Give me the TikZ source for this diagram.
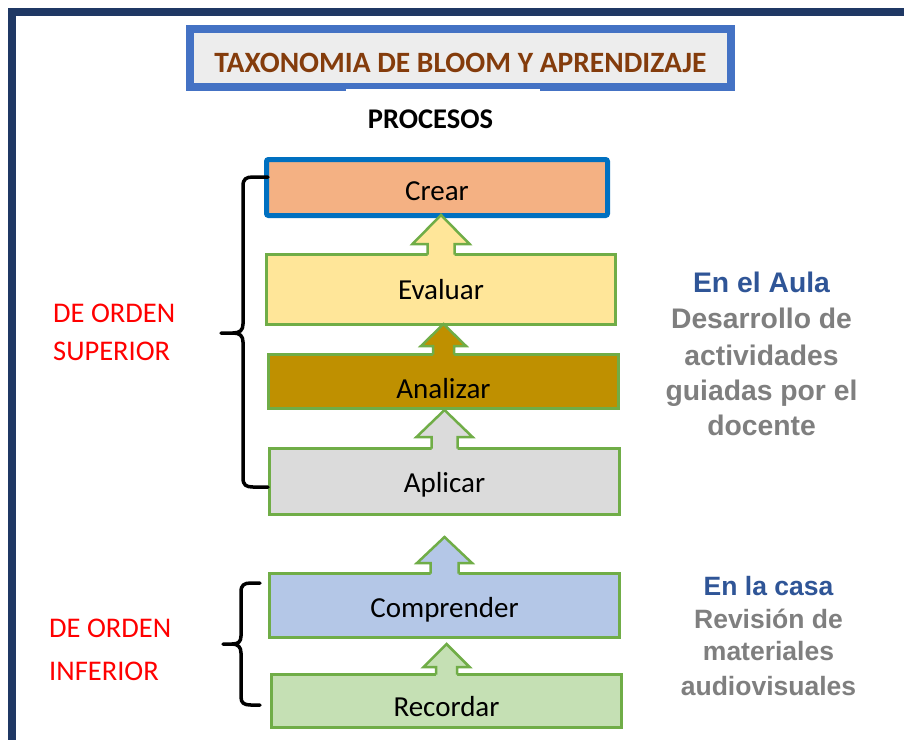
\documentclass[tikz,border=0pt]{standalone}
\usepackage{fontspec}
\setmainfont{Carlito}
\newfontfamily\arialf{Liberation Sans}
\usetikzlibrary{calc}
\definecolor{navy}{RGB}{31,56,100}
\definecolor{titleblue}{RGB}{68,114,196}
\definecolor{titlefill}{RGB}{237,237,237}
\definecolor{titlebrown}{RGB}{132,60,12}
\definecolor{crearblue}{RGB}{0,112,192}
\definecolor{crearfill}{RGB}{244,177,131}
\definecolor{evalfill}{RGB}{255,230,153}
\definecolor{analfill}{RGB}{191,144,0}
\definecolor{aplifill}{RGB}{219,219,219}
\definecolor{compfill}{RGB}{180,199,231}
\definecolor{recofill}{RGB}{197,224,180}
\definecolor{lvgreen}{RGB}{112,173,71}
\definecolor{txtblue}{RGB}{47,85,151}
\definecolor{txtgray}{RGB}{127,127,127}
% block up-arrow standing on the top of node #1
% #2 total length, #3 head length, #4 head width, #5 shaft width, #6 fill
\newcommand\uparr[6]{%
  \fill[#6] ($(#1.north)+({-(#5)/2},2)$) -- ($(#1.north)+({-(#5)/2},{-((#2)-(#3))})$)
    -- ($(#1.north)+({-(#4)/2},{-((#2)-(#3))})$) -- ($(#1.north)+(0,{-(#2)})$)
    -- ($(#1.north)+({(#4)/2},{-((#2)-(#3))})$) -- ($(#1.north)+({(#5)/2},{-((#2)-(#3))})$)
    -- ($(#1.north)+({(#5)/2},2)$) -- cycle;
  \draw[arrowline] ($(#1.north)+({-(#5)/2},0)$) -- ($(#1.north)+({-(#5)/2},{-((#2)-(#3))})$)
    -- ($(#1.north)+({-(#4)/2},{-((#2)-(#3))})$) -- ($(#1.north)+(0,{-(#2)})$)
    -- ($(#1.north)+({(#4)/2},{-((#2)-(#3))})$) -- ($(#1.north)+({(#5)/2},{-((#2)-(#3))})$)
    -- ($(#1.north)+({(#5)/2},0)$);
}
\begin{document}
\begin{tikzpicture}[x=1pt,y=-1pt,
  lvl/.style={draw=lvgreen, line width=3pt, minimum width=350, inner sep=0pt, outer sep=0pt,
    font=\fontsize{29}{34}\selectfont, text=black},
  txtbase/.style={text height=#1, text depth=0pt},
  arrowline/.style={draw=lvgreen, line width=2.5pt, line join=miter},
  redlbl/.style={anchor=base west, inner sep=0pt, text=red, font=\fontsize{28.5}{34}\selectfont},
  aulatxt/.style={anchor=base, inner sep=0pt, font=\arialf\bfseries\fontsize{28.3}{34}\selectfont},
  casatxt/.style={anchor=base, inner sep=0pt, font=\arialf\bfseries\fontsize{26.5}{32}\selectfont},
  bracestyle/.style={draw=black, line width=3.5pt, line cap=round, line join=round},
]
\useasboundingbox (0,0) rectangle (904,740);
\fill[white] (0,0) rectangle (904,740);
% outer frame
\fill[navy] (8,8) rectangle (904,16);
\fill[navy] (8,8) rectangle (16,740);

% title
\node[draw=titleblue, line width=8pt, fill=titlefill, minimum width=541, minimum height=58,
  inner sep=0pt, outer sep=0pt, text=titlebrown, font=\bfseries\fontsize{29.5}{34}\selectfont,
  txtbase=28pt] (title) at (460.5,58) {TAXONOMIA DE BLOOM Y APRENDIZAJE};
\fill[white] (346,89) rectangle (540,93);
\node[anchor=base, inner sep=0pt, font=\bfseries\fontsize{28.5}{32}\selectfont] (procesos) at (430.5,128) {PROCESOS};

% levels
\node[lvl, draw=crearblue, line width=5pt, rounded corners=2pt, fill=crearfill, minimum width=341,
  minimum height=56, txtbase=25pt] (crear) at (437,187.5) {Crear};
\node[lvl, fill=evalfill, minimum width=349, minimum height=70, txtbase=19pt] (evaluar) at (441,289.5) {Evaluar};
\node[lvl, fill=analfill, minimum height=54, txtbase=33pt] (analizar) at (443.5,381.5) {Analizar};
\node[lvl, fill=aplifill, minimum height=66, txtbase=21pt] (aplicar) at (444.5,481.5) {Aplicar};
\node[lvl, fill=compfill, minimum height=64, txtbase=23pt] (comprender) at (444.5,605.5) {Comprender};
\node[lvl, fill=recofill, minimum height=53, txtbase=30pt] (recordar) at (446.5,701) {Recordar};

% block arrows
\uparr{evaluar}{39.5}{29}{57}{27}{evalfill}
\uparr{analizar}{30.5}{22}{45}{21}{analfill}
\uparr{aplicar}{38.5}{27}{56}{26}{aplifill}
\uparr{comprender}{36.5}{26}{55}{28}{compfill}
\uparr{recordar}{30.5}{23}{46}{21}{recofill}

% braces
\draw[bracestyle] (268,177) -- (253,177) .. controls (246,177) and (243,179) .. (243,186)
  -- (243,324) .. controls (243,330) and (240,333) .. (233,333) -- (221,333);
\draw[bracestyle] (233,333) .. controls (240,333) and (243,336) .. (243,342)
  -- (243,478) .. controls (243,485) and (246,487) .. (253,487) -- (268,487);
\draw[bracestyle] (260,583) -- (251,583) .. controls (244,583) and (241,585) .. (241,592)
  -- (241,636) .. controls (241,642) and (238,644) .. (232,644) -- (223,644);
\draw[bracestyle] (232,644) .. controls (238,644) and (241,647) .. (241,653)
  -- (241,697) .. controls (241,703) and (244,705) .. (251,705) -- (260,705);

% left labels
\node[redlbl] (sup1) at (53,322) {DE ORDEN};
\node[redlbl] (sup2) at (53,360) {SUPERIOR};
\node[redlbl] (inf1) at (49,637) {DE ORDEN};
\node[redlbl] (inf2) at (49,680) {INFERIOR};

% right texts
\node[aulatxt, text=txtblue] (aula0) at (761.5,292) {En el Aula};
\node[aulatxt, text=txtgray] (aula1) at (761.5,328) {Desarrollo de};
\node[aulatxt, text=txtgray] (aula2) at (761.5,365) {actividades};
\node[aulatxt, text=txtgray] (aula3) at (761.5,400) {guiadas por el};
\node[aulatxt, text=txtgray] (aula4) at (761.5,435) {docente};
\node[casatxt, text=txtblue] (casa0) at (768.5,595) {En la casa};
\node[casatxt, text=txtgray] (casa1) at (768.5,628) {Revisión de};
\node[casatxt, text=txtgray] (casa2) at (768.5,660) {materiales};
\node[casatxt, text=txtgray] (casa3) at (768.5,695) {audiovisuales};
\end{tikzpicture}
\end{document}
